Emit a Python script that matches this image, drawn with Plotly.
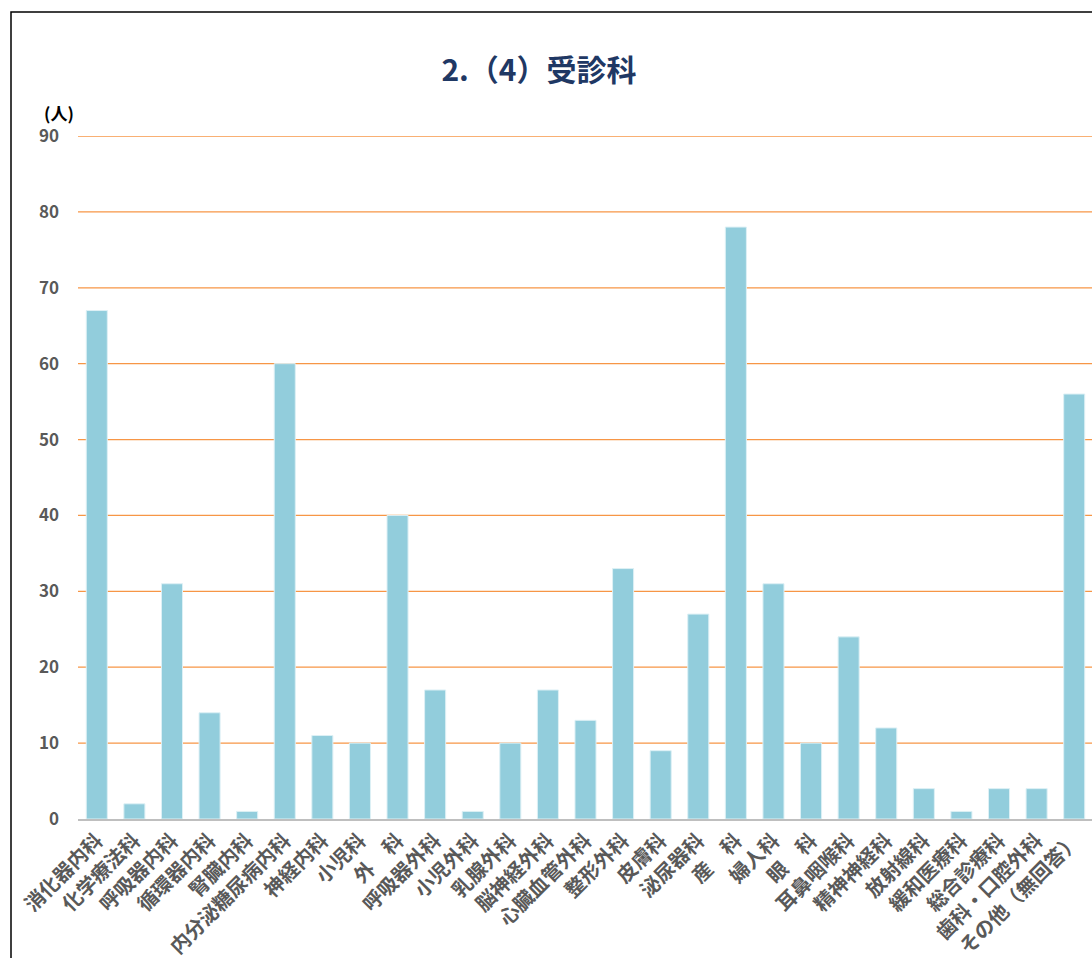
import plotly.graph_objects as go

categories = ["消化器内科", "化学療法科", "呼吸器内科", "循環器内科", "腎臓内科",
              "内分泌糖尿病内科", "神経内科", "小児科", "外　科", "呼吸器外科",
              "小児外科", "乳腺外科", "脳神経外科", "心臓血管外科", "整形外科",
              "皮膚科", "泌尿器科", "産　科", "婦人科", "眼　科",
              "耳鼻咽喉科", "精神神経科", "放射線科", "緩和医療科", "総合診療科",
              "歯科・口腔外科", "その他（無回答）"]
values = [67, 2, 31, 14, 1, 60, 11, 10, 40, 17,
          1, 10, 17, 13, 33, 9, 27, 78, 31, 10,
          24, 12, 4, 1, 4, 4, 56]
y_ticks = [0, 10, 20, 30, 40, 50, 60, 70, 80, 90]

FONT = "Noto Sans CJK JP"
W, H = 1100, 1000
L, R, T, B = 78, 7, 136, 181
pw = W - L - R
ph = H - T - B

fig = go.Figure(go.Bar(
    x=categories, y=values,
    marker=dict(color="#92CDDC", line=dict(color="#DDF0F5", width=1)),
))

fig.update_layout(
    template="none",
    width=W, height=H,
    margin=dict(l=L, r=R, t=T, b=B, autoexpand=False),
    paper_bgcolor="white", plot_bgcolor="white",
    bargap=0.44,
    showlegend=False,
    font=dict(family=FONT),
    title=dict(text="2.（4）受診科", x=539 / W, xanchor="center",
               y=1 - 70 / H, yanchor="middle",
               font=dict(family=FONT, size=30, color="#1F3864", weight="bold")),
    xaxis=dict(
        tickangle=-45,
        tickfont=dict(family=FONT, size=20, color="#595959", weight="bold"),
        showgrid=False, showline=True, linecolor="#BFBFBF", linewidth=2,
        ticks="", range=[-0.5, len(categories) - 0.5], zeroline=False,
    ),
    yaxis=dict(
        range=[0, 90], tickvals=y_ticks,
        tickfont=dict(family=FONT, size=17, color="#595959", weight="bold"),
        showgrid=False,
        zeroline=False, showline=False, ticks="", ticklabelstandoff=18,
    ),
)
# orange horizontal gridlines at the tick values
for v in y_ticks[1:]:
    fig.add_shape(type="line", xref="paper", yref="y", x0=0, x1=1, y0=v, y1=v,
                  line=dict(color="#F79646", width=1.3), layer="below")

fig.add_annotation(text="(人)", xref="paper", yref="paper",
                   x=(76 - L) / pw, y=(819 - 113) / ph,
                   xanchor="right", yanchor="middle", showarrow=False,
                   font=dict(family=FONT, size=17, color="black", weight="bold"))
fig.add_shape(type="rect", xref="paper", yref="paper",
              x0=(11 - L) / pw, x1=1.3, y0=-0.6, y1=(819 - 12) / ph,
              line=dict(color="black", width=1.5), layer="below")

fig.write_html("out.html", config={"displayModeBar": False},
               post_script="document.body.style.margin='0';document.body.style.overflow='hidden';")
